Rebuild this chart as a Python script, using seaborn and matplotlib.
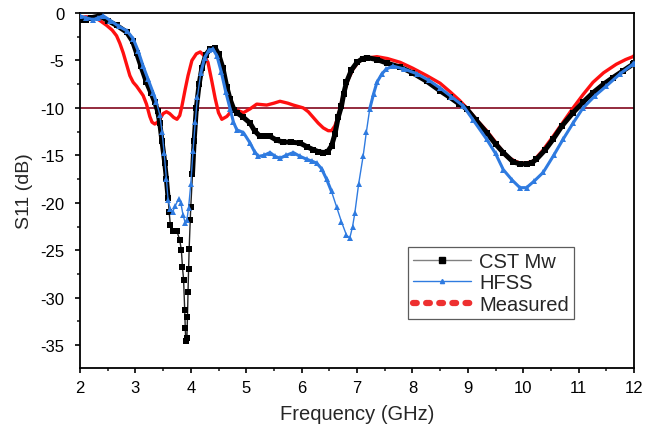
import numpy as np
import pandas as pd
import seaborn as sns
import matplotlib
matplotlib.use("Agg")
import matplotlib.pyplot as plt
from matplotlib.lines import Line2D

# ---- data ----
cst_f = [2.00, 2.10, 2.20, 2.36, 2.50, 2.66, 2.84, 2.95, 3.02, 3.10, 3.20, 3.28, 3.35, 3.40, 3.44,
         3.48, 3.53, 3.56, 3.59, 3.61, 3.63, 3.68, 3.75, 3.80, 3.83, 3.85, 3.87, 3.89, 3.90, 3.91,
         3.93, 3.94, 3.95, 3.96, 3.97, 3.99, 4.00, 4.03, 4.06, 4.10, 4.15, 4.20, 4.27, 4.35, 4.44,
         4.50, 4.58, 4.65, 4.71, 4.78, 4.83, 4.95, 5.07, 5.15, 5.25, 5.35, 5.43, 5.55, 5.67, 5.80,
         5.97, 6.10, 6.21, 6.30, 6.39, 6.47, 6.54, 6.60, 6.66, 6.72, 6.76, 6.81, 6.90, 7.00, 7.10,
         7.18, 7.36, 7.55, 7.78, 8.00, 8.26, 8.50, 8.68, 8.85, 8.98, 9.15, 9.34, 9.50, 9.64, 9.82,
         9.95, 10.06, 10.15, 10.24, 10.40, 10.54, 10.70, 10.90, 11.08, 11.26, 11.45, 11.62, 11.80,
         11.98, 12.00]
cst_s11 = [-0.7, -0.7, -0.5, -0.3, -0.8, -1.3, -2.0, -3.0, -4.2, -5.6, -7.3, -8.4, -9.4, -10.3, -11.6,
           -13.5, -15.8, -17.5, -19.5, -21.0, -22.3, -23.0, -23.0, -23.9, -25.0, -26.8, -28.1, -31.3, -33.2, -34.6,
           -34.2, -32.0, -29.4, -27.0, -24.9, -21.8, -20.4, -17.0, -13.5, -10.0, -7.5, -5.8, -4.4, -3.8, -3.7,
           -4.3, -5.8, -7.8, -9.1, -10.2, -10.5, -11.0, -11.6, -12.4, -13.0, -13.0, -13.0, -13.4, -13.6, -13.6,
           -13.7, -14.1, -14.4, -14.6, -14.7, -14.6, -14.0, -12.8, -11.0, -9.8, -8.5, -7.3, -6.0, -5.2, -4.8,
           -4.7, -4.9, -5.3, -5.7, -6.3, -7.2, -8.2, -8.9, -9.6, -10.1, -11.3, -12.6, -13.8, -14.7, -15.7,
           -15.9, -15.9, -15.8, -15.4, -14.4, -13.3, -11.9, -10.5, -9.4, -8.4, -7.5, -6.8, -6.1,
           -5.4, -5.3]

hfss_f = [2.00, 2.10, 2.24, 2.33, 2.42, 2.55, 2.70, 2.85, 2.96, 3.05, 3.14, 3.23, 3.32, 3.38, 3.44,
          3.48, 3.52, 3.56, 3.59, 3.63, 3.67, 3.72, 3.78, 3.82, 3.86, 3.90, 3.93, 3.96, 4.00, 4.04,
          4.08, 4.12, 4.18, 4.25, 4.33, 4.40, 4.47, 4.55, 4.63, 4.71, 4.77, 4.83, 4.95, 5.07, 5.15,
          5.22, 5.32, 5.43, 5.52, 5.61, 5.72, 5.85, 5.97, 6.09, 6.18, 6.27, 6.36, 6.45, 6.54, 6.63,
          6.72, 6.81, 6.87, 6.92, 6.96, 7.03, 7.11, 7.17, 7.23, 7.30, 7.36, 7.45, 7.53, 7.65, 7.85,
          8.08, 8.30, 8.50, 8.70, 8.92, 9.10, 9.34, 9.50, 9.64, 9.80, 9.94, 10.06, 10.20, 10.36, 10.55,
          10.72, 10.90, 11.08, 11.30, 11.50, 11.75, 11.98, 12.00]
hfss_s11 = [-0.3, -0.5, -0.7, -0.5, -0.3, -0.8, -1.4, -1.9, -2.7, -4.0, -5.6, -7.0, -8.4, -9.4, -10.7,
            -12.5, -14.8, -17.5, -19.7, -20.7, -21.0, -20.3, -19.6, -20.0, -21.3, -22.1, -21.8, -20.5, -18.0, -14.5,
            -11.5, -8.8, -6.3, -4.7, -3.9, -3.8, -4.5, -6.2, -8.3, -10.1, -11.5, -12.3, -12.6, -13.7, -14.6,
            -15.1, -15.0, -14.7, -15.1, -15.3, -15.0, -14.7, -15.1, -15.4, -15.6, -15.8, -16.4, -17.5, -18.8, -20.4,
            -22.0, -23.4, -23.7, -22.5, -21.1, -18.0, -15.1, -12.5, -10.1, -8.5, -7.3, -6.4, -5.9, -5.6, -5.9,
            -6.4, -7.1, -7.9, -8.8, -9.8, -11.3, -13.3, -14.8, -16.5, -17.6, -18.4, -18.4, -17.7, -16.8, -15.0,
            -13.3, -11.6, -10.0, -8.7, -7.7, -6.4, -5.4, -5.3]

meas_f = [2.00, 2.10, 2.24, 2.36, 2.48, 2.58, 2.66, 2.72, 2.78, 2.84, 2.90, 2.96, 3.02, 3.08, 3.14,
          3.20, 3.26, 3.30, 3.35, 3.40, 3.44, 3.50, 3.56, 3.62, 3.69, 3.75, 3.80, 3.84, 3.90, 3.95,
          4.02, 4.10, 4.17, 4.24, 4.31, 4.38, 4.44, 4.50, 4.56, 4.65, 4.77, 4.86, 4.95, 5.07, 5.19,
          5.37, 5.50, 5.61, 5.75, 5.85, 6.03, 6.12, 6.21, 6.30, 6.39, 6.48, 6.54, 6.60, 6.66, 6.75,
          6.84, 6.93, 7.02, 7.11, 7.36, 7.55, 7.78, 8.00, 8.26, 8.50, 8.68, 8.85, 8.98, 9.15, 9.34,
          9.50, 9.70, 9.85, 9.94, 10.06, 10.18, 10.35, 10.54, 10.72, 10.90, 11.08, 11.26, 11.45, 11.68,
          11.85, 11.98, 12.00]
meas_s11 = [-0.5, -0.4, -0.4, -0.8, -1.3, -1.8, -2.4, -3.2, -4.2, -5.4, -6.6, -7.3, -7.7, -8.2, -8.7,
            -9.6, -10.9, -11.5, -11.7, -11.5, -11.2, -10.6, -10.4, -10.6, -11.0, -11.2, -10.8, -9.8, -8.0, -6.6,
            -5.0, -4.3, -4.1, -4.5, -5.2, -7.2, -9.0, -10.5, -11.2, -10.9, -10.1, -10.3, -10.5, -10.1, -9.6,
            -9.7, -9.5, -9.3, -9.5, -9.7, -10.0, -10.4, -11.0, -11.6, -12.1, -12.4, -12.4, -11.9, -10.9, -8.7,
            -7.0, -5.9, -5.2, -4.8, -4.6, -4.8, -5.2, -5.8, -6.6, -7.4, -8.3, -9.2, -10.0, -11.2, -12.4,
            -13.6, -15.1, -15.6, -15.8, -15.8, -15.6, -14.5, -13.0, -11.5, -10.0, -8.6, -7.3, -6.3, -5.4,
            -4.9, -4.6, -4.5]

series_names = ["CST Mw", "HFSS", "Measured"]
threshold_db = -10
x_ticks = [2, 3, 4, 5, 6, 7, 8, 9, 10, 11, 12]
y_ticks = [0, -5, -10, -15, -20, -25, -30, -35]

# ---- style ----
sns.set_theme(style="ticks")
plt.rcParams["font.family"] = ["Liberation Sans", "DejaVu Sans"]
plt.rcParams["axes.unicode_minus"] = False

c_cst = "#000000"
c_hfss = "#2F7BE0"
c_meas = "#FF1010"
c_line = "#8B1A2E"

fig = plt.figure(figsize=(6.45, 4.27), dpi=100)
ax = fig.add_axes([80 / 645, 1 - 369 / 427, (634 - 80) / 645, (369 - 14) / 427])

df_cst = pd.DataFrame({"f": cst_f, "s": cst_s11})
df_hfss = pd.DataFrame({"f": hfss_f, "s": hfss_s11})
df_meas = pd.DataFrame({"f": meas_f, "s": meas_s11})


def dense_segments(df, keep):
    """rows where the simulated curve is densely sampled (looks like a thick line),
    split into separate runs so that they are drawn as separate lines"""
    seg = (keep != keep.shift()).cumsum()
    out = df.assign(seg=seg)
    return out[keep.values]


cst_keep = df_cst["s"] > -19.6
hfss_grad = pd.Series(np.abs(np.gradient(df_hfss["s"].values, df_hfss["f"].values)))
hfss_keep = (df_hfss["s"] > -19.0) & (hfss_grad < 35)

ax.axhline(threshold_db, color=c_line, lw=1.3, zorder=1)

sns.lineplot(data=df_meas, x="f", y="s", ax=ax, color=c_meas, lw=2.4,
             estimator=None, sort=False, zorder=2)
# CST: thin connecting line with square markers, thick where densely sampled
sns.lineplot(data=df_cst, x="f", y="s", ax=ax, color="#222222", lw=1.0,
             marker="s", markersize=4.2, markeredgewidth=0, markerfacecolor="black",
             estimator=None, sort=False, zorder=3)
sns.lineplot(data=dense_segments(df_cst, cst_keep), x="f", y="s", units="seg",
             ax=ax, color=c_cst, lw=3.6, estimator=None, sort=False, zorder=3)
# HFSS
sns.lineplot(data=df_hfss, x="f", y="s", ax=ax, color=c_hfss, lw=1.0,
             marker="^", markersize=3.8, markeredgewidth=0,
             estimator=None, sort=False, zorder=4)
sns.lineplot(data=dense_segments(df_hfss, hfss_keep), x="f", y="s", units="seg",
             ax=ax, color=c_hfss, lw=2.2, estimator=None, sort=False, zorder=4)

ax.set_xlim(2, 12)
ax.set_ylim(-37.4, 0)
ax.set_xticks(x_ticks)
ax.set_xticklabels([str(t) for t in x_ticks])
ax.set_yticks(y_ticks)
ax.set_yticklabels([str(t) for t in y_ticks])
ax.set_xticks(np.arange(2.5, 12, 1.0), minor=True)
ax.set_yticks(np.arange(-2.5, -37.4, -5.0), minor=True)
ax.tick_params(axis="both", which="major", direction="out", length=3.8, width=1.2,
               labelsize=12, colors="black", top=False, right=False)
ax.tick_params(axis="x", which="major", pad=4.5)
ax.tick_params(axis="y", which="major", pad=7.5)
ax.tick_params(axis="both", which="minor", direction="out", length=2.4, width=1.2,
               top=False, right=False)
for sp in ax.spines.values():
    sp.set_visible(True)
    sp.set_color("black")
    sp.set_linewidth(1.3)

ax.set_xlabel("Frequency (GHz)", fontsize=14.5, labelpad=7)
ax.set_ylabel("S11 (dB)", fontsize=14, labelpad=5)

handles = [
    Line2D([0], [0], color="#808080", lw=1, marker="s", markersize=4,
           markerfacecolor="black", markeredgecolor="black"),
    Line2D([0], [0], color=c_hfss, lw=1, marker="^", markersize=3,
           markerfacecolor=c_hfss, markeredgecolor=c_hfss),
    Line2D([0], [0], color="#EE3030", lw=4.5, linestyle=(0, (0.6, 1.5)),
           dash_capstyle="round"),
]
leg = ax.legend(handles, series_names, loc="upper left",
                bbox_to_anchor=(0.592, 0.341), borderaxespad=0,
                fontsize=14.5, frameon=True, fancybox=False, handlelength=2.9,
                handletextpad=0.4, labelspacing=0.12, borderpad=0.25)
leg.get_frame().set_edgecolor("#333333")
leg.get_frame().set_linewidth(0.9)

fig.savefig("out.png", dpi=100)
